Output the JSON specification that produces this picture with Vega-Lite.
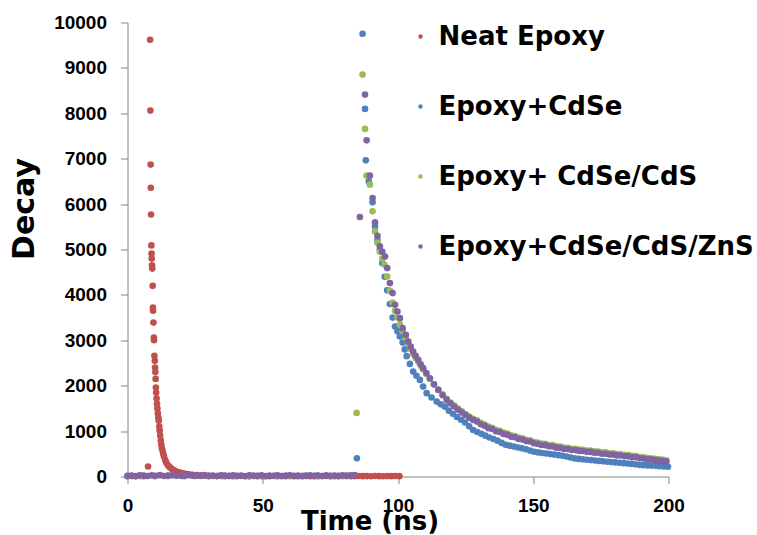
{
  "$schema": "https://vega.github.io/schema/vega-lite/v6.json",
  "width": 541,
  "height": 454,
  "autosize": "none",
  "padding": {"left": 127.5, "top": 22.5, "right": 88.5, "bottom": 58.5},
  "background": "#ffffff",
  "config": {"view": {"stroke": null}},
  "datasets": {
    "neat": [
      {"t":0,"y":6},{"t":1.5,"y":9},{"t":3,"y":4},{"t":4.5,"y":11},{"t":6,"y":7},{"t":7.6,"y":220},
      {"t":8.35,"y":9620},{"t":8.45,"y":8060},{"t":8.55,"y":6870},{"t":8.62,"y":6360},{"t":8.7,"y":5770},{"t":8.8,"y":5090},{"t":8.9,"y":4910},{"t":8.97,"y":4800},{"t":9.05,"y":4650},{"t":9.15,"y":4580},{"t":9.3,"y":4200},{"t":9.4,"y":3720},{"t":9.45,"y":3650},{"t":9.6,"y":3390},{"t":9.75,"y":3060},{"t":9.8,"y":3000},{"t":9.95,"y":2660},{"t":10.1,"y":2550},{"t":10.2,"y":2400},{"t":10.3,"y":2300},{"t":10.4,"y":2150},{"t":10.5,"y":1960},{"t":10.6,"y":1850},{"t":10.75,"y":1720},{"t":10.9,"y":1600},{"t":11.05,"y":1500},{"t":11.2,"y":1390},{"t":11.4,"y":1300},{"t":11.55,"y":1230},{"t":11.75,"y":1100},{"t":11.9,"y":1010},{"t":12.1,"y":900},{"t":12.3,"y":790},{"t":12.5,"y":700},{"t":12.7,"y":620},{"t":12.95,"y":570},{"t":13.2,"y":500},{"t":13.5,"y":440},{"t":13.9,"y":370},{"t":14.3,"y":310},{"t":14.8,"y":260},{"t":15.3,"y":225},{"t":15.8,"y":195},{"t":16.4,"y":165},{"t":17,"y":140},{"t":17.7,"y":118},{"t":18.5,"y":98},{"t":19.4,"y":85},{"t":20.4,"y":70},{"t":21.5,"y":58},{"t":22.7,"y":48},{"t":24,"y":38},{"t":25.5,"y":30},{"t":27,"y":24},{"t":28.5,"y":18},{"t":30,"y":14},
      {"t":31.5,"y":11},{"t":33,"y":9},{"t":34.5,"y":12},{"t":36,"y":8},{"t":37.5,"y":10},{"t":39,"y":7},{"t":40.5,"y":9},{"t":42,"y":11},{"t":43.5,"y":6},{"t":45,"y":8},{"t":46.5,"y":10},{"t":48,"y":7},{"t":49.5,"y":9},{"t":51,"y":5},{"t":52.5,"y":8},{"t":54,"y":10},{"t":55.5,"y":6},{"t":57,"y":9},{"t":58.5,"y":7},{"t":60,"y":11},{"t":61.5,"y":8},{"t":63,"y":6},{"t":64.5,"y":9},{"t":66,"y":10},{"t":67.5,"y":7},{"t":69,"y":8},{"t":70.5,"y":5},{"t":72,"y":9},{"t":73.5,"y":11},{"t":75,"y":6},{"t":76.5,"y":8},{"t":78,"y":7},{"t":79.5,"y":10},{"t":81,"y":9},{"t":82.5,"y":6},{"t":84,"y":8},{"t":85.5,"y":11},{"t":87,"y":7},{"t":88.5,"y":9},{"t":90,"y":6},{"t":91.5,"y":10},{"t":93,"y":8},{"t":94.5,"y":5},{"t":96,"y":9},{"t":97.5,"y":7},{"t":99,"y":10},{"t":100.5,"y":8}
    ],
    "cdse": [
      {"t":0,"y":12},{"t":5,"y":15},{"t":10,"y":9},{"t":15,"y":13},{"t":20,"y":10},{"t":25,"y":14},{"t":30,"y":8},{"t":35,"y":12},{"t":40,"y":11},{"t":45,"y":15},{"t":50,"y":9},{"t":55,"y":13},{"t":60,"y":10},{"t":65,"y":12},{"t":70,"y":14},{"t":75,"y":9},{"t":80,"y":11},
      {"t":84.8,"y":400},{"t":86.9,"y":9751},{"t":87.8,"y":8097},{"t":88.1,"y":6964},{"t":89.2,"y":6500},{"t":90.6,"y":6038},{"t":91.5,"y":5500},{"t":92.4,"y":5200},{"t":93.3,"y":5000},{"t":94.2,"y":4700},{"t":95.1,"y":4400},{"t":96,"y":4100},{"t":97,"y":3800},{"t":98,"y":3500},{"t":98.9,"y":3303},{"t":99.8,"y":3200},{"t":100.7,"y":3083},{"t":101.7,"y":2950},{"t":102.5,"y":2800},{"t":103.2,"y":2650},{"t":104.4,"y":2480},{"t":105.6,"y":2311},{"t":106.8,"y":2220},{"t":108.1,"y":2128},{"t":109.3,"y":1980},{"t":110.6,"y":1835},{"t":112.4,"y":1740},{"t":114.3,"y":1650},{"t":115.8,"y":1590},{"t":117.3,"y":1540},{"t":118.8,"y":1450},{"t":120.3,"y":1380},{"t":121.8,"y":1310},{"t":123.3,"y":1250},{"t":124.8,"y":1190},{"t":126.3,"y":1105},{"t":127.8,"y":1025},{"t":129.3,"y":980},{"t":130.8,"y":940},{"t":132.3,"y":900},{"t":133.8,"y":860},{"t":135.3,"y":825},{"t":136.8,"y":790},{"t":138.3,"y":740},{"t":139.8,"y":700},{"t":141.3,"y":680},{"t":142.8,"y":660},{"t":144.3,"y":640},{"t":145.8,"y":620},{"t":147.3,"y":600},{"t":148.8,"y":570},{"t":150.3,"y":545},{"t":151.8,"y":530},{"t":153.3,"y":518},{"t":154.8,"y":506},{"t":156.3,"y":494},{"t":157.8,"y":482},{"t":159.3,"y":470},{"t":160.8,"y":455},{"t":162.3,"y":438},{"t":163.8,"y":418},{"t":165.3,"y":398},{"t":166.8,"y":388},{"t":168.3,"y":378},{"t":169.8,"y":370},{"t":171.3,"y":362},{"t":172.8,"y":353},{"t":174.3,"y":344},{"t":175.8,"y":335},{"t":177.3,"y":326},{"t":178.8,"y":318},{"t":180.3,"y":310},{"t":181.8,"y":302},{"t":183.3,"y":294},{"t":184.8,"y":286},{"t":186.3,"y":278},{"t":187.8,"y":268},{"t":189.3,"y":254},{"t":190.8,"y":250},{"t":192.3,"y":245},{"t":193.8,"y":240},{"t":195.3,"y":235},{"t":196.8,"y":228},{"t":198.3,"y":222},{"t":199.8,"y":215}
    ],
    "cdsecds": [
      {"t":0,"y":10},{"t":5,"y":13},{"t":10,"y":8},{"t":15,"y":12},{"t":20,"y":14},{"t":25,"y":9},{"t":30,"y":11},{"t":35,"y":13},{"t":40,"y":10},{"t":45,"y":8},{"t":50,"y":12},{"t":55,"y":14},{"t":60,"y":9},{"t":65,"y":11},{"t":70,"y":13},{"t":75,"y":10},{"t":80,"y":12},
      {"t":84.7,"y":1400},{"t":86.9,"y":8853},{"t":87.8,"y":7656},{"t":88.4,"y":6626},{"t":89.6,"y":6428},{"t":90.6,"y":5840},{"t":91.5,"y":5398},{"t":92.4,"y":5150},{"t":93.3,"y":4950},{"t":94.2,"y":4800},{"t":95,"y":4664},{"t":96,"y":4406},{"t":97,"y":4097},{"t":98,"y":3833},{"t":98.9,"y":3650},{"t":99.8,"y":3500},{"t":100.7,"y":3350},{"t":101.7,"y":3200},{"t":102.9,"y":3050},{"t":103.8,"y":2920},{"t":104.7,"y":2810},{"t":105.6,"y":2700},{"t":106.5,"y":2610},{"t":107.5,"y":2520},{"t":108.4,"y":2440},{"t":109.3,"y":2360},{"t":110.5,"y":2260},{"t":111.8,"y":2150},{"t":113.3,"y":2030},{"t":114.9,"y":1915},{"t":116.5,"y":1810},{"t":118,"y":1710},{"t":119.4,"y":1630},{"t":120.8,"y":1560},{"t":122.2,"y":1495},{"t":123.6,"y":1435},{"t":125,"y":1375},{"t":126.4,"y":1320},{"t":127.8,"y":1270},
      {"t":129.2,"y":1235},{"t":130.6,"y":1180},{"t":132,"y":1145},{"t":133.4,"y":1100},{"t":134.8,"y":1070},{"t":136.2,"y":1030},{"t":137.6,"y":1005},{"t":139,"y":965},{"t":140.4,"y":945},{"t":141.8,"y":905},{"t":143.2,"y":890},{"t":144.6,"y":855},{"t":146,"y":840},{"t":147.4,"y":810},{"t":148.8,"y":795},{"t":150.2,"y":760},{"t":151.6,"y":750},{"t":153,"y":725},{"t":154.4,"y":720},{"t":155.8,"y":695},{"t":157.2,"y":690},{"t":158.6,"y":665},{"t":160,"y":660},{"t":161.4,"y":635},{"t":162.8,"y":632},{"t":164.2,"y":612},{"t":165.6,"y":610},{"t":167,"y":593},{"t":168.4,"y":590},{"t":169.8,"y":572},{"t":171.2,"y":570},{"t":172.6,"y":552},{"t":174,"y":550},{"t":175.4,"y":532},{"t":176.8,"y":530},{"t":178.2,"y":512},{"t":179.6,"y":510},{"t":181,"y":495},{"t":182.4,"y":490},{"t":183.8,"y":475},{"t":185.2,"y":470},{"t":186.6,"y":455},{"t":188,"y":450},{"t":189.4,"y":430},{"t":190.8,"y":422},{"t":192.2,"y":412},{"t":193.6,"y":400},{"t":195,"y":392},{"t":196.4,"y":380},{"t":197.8,"y":372},{"t":199.2,"y":355}
    ],
    "cdsecdszns": [
      {"t":0,"y":15},{"t":1.5,"y":22},{"t":3,"y":10},{"t":4.5,"y":28},{"t":6,"y":18},{"t":7.5,"y":12},{"t":9,"y":25},{"t":10.5,"y":16},{"t":12,"y":30},{"t":13.5,"y":11},{"t":15,"y":20},{"t":16.5,"y":26},{"t":18,"y":14},{"t":19.5,"y":22},{"t":21,"y":9},{"t":22.5,"y":27},{"t":24,"y":17},{"t":25.5,"y":21},{"t":27,"y":12},{"t":28.5,"y":29},{"t":30,"y":16},{"t":31.5,"y":23},{"t":33,"y":10},{"t":34.5,"y":25},{"t":36,"y":18},{"t":37.5,"y":13},{"t":39,"y":27},{"t":40.5,"y":15},{"t":42,"y":21},{"t":43.5,"y":11},{"t":45,"y":26},{"t":46.5,"y":19},{"t":48,"y":14},{"t":49.5,"y":28},{"t":51,"y":12},{"t":52.5,"y":22},{"t":54,"y":17},{"t":55.5,"y":24},{"t":57,"y":10},{"t":58.5,"y":20},{"t":60,"y":27},{"t":61.5,"y":15},{"t":63,"y":23},{"t":64.5,"y":12},{"t":66,"y":19},{"t":67.5,"y":28},{"t":69,"y":14},{"t":70.5,"y":21},{"t":72,"y":11},{"t":73.5,"y":25},{"t":75,"y":17},{"t":76.5,"y":22},{"t":78,"y":13},{"t":79.5,"y":26},{"t":81,"y":18},{"t":82.5,"y":24},{"t":84,"y":30},
      {"t":85.9,"y":5715},{"t":87.8,"y":8412},{"t":88.4,"y":7405},{"t":89.6,"y":6626},{"t":90.6,"y":6134},{"t":91.5,"y":5597},{"t":92.4,"y":5300},{"t":93.3,"y":5068},{"t":94.2,"y":4950},{"t":95.2,"y":4847},{"t":96,"y":4591},{"t":97,"y":4260},{"t":98,"y":4040},{"t":98.9,"y":3782},{"t":99.8,"y":3634},{"t":100.7,"y":3488},{"t":101.7,"y":3268},{"t":102.9,"y":3120},{"t":103.8,"y":2973},{"t":104.7,"y":2860},{"t":105.6,"y":2752},{"t":106.5,"y":2660},{"t":107.5,"y":2569},{"t":108.4,"y":2470},{"t":109.3,"y":2386},{"t":110.5,"y":2280},{"t":111.8,"y":2165},{"t":113.3,"y":2030},{"t":114.9,"y":1907},{"t":116.5,"y":1790},{"t":118,"y":1687},{"t":119.4,"y":1610},{"t":120.8,"y":1540},{"t":122.2,"y":1470},{"t":123.6,"y":1410},{"t":125,"y":1350},{"t":126.4,"y":1295},{"t":127.8,"y":1245},{"t":129.2,"y":1210},{"t":130.6,"y":1150},{"t":132,"y":1120},{"t":133.4,"y":1065},{"t":134.8,"y":1045},{"t":136.2,"y":995},{"t":137.6,"y":980},{"t":139,"y":935},{"t":140.4,"y":920},{"t":141.8,"y":875},{"t":143.2,"y":865},{"t":144.6,"y":825},{"t":146,"y":815},{"t":147.4,"y":780},{"t":148.8,"y":770},{"t":150.2,"y":732},{"t":151.6,"y":720},{"t":153,"y":695},{"t":154.4,"y":690},{"t":155.8,"y":665},{"t":157.2,"y":660},{"t":158.6,"y":635},{"t":160,"y":630},{"t":161.4,"y":605},{"t":162.8,"y":603},{"t":164.2,"y":584},{"t":165.6,"y":582},{"t":167,"y":563},{"t":168.4,"y":562},{"t":169.8,"y":543},{"t":171.2,"y":542},{"t":172.6,"y":523},{"t":174,"y":522},{"t":175.4,"y":502},{"t":176.8,"y":500},{"t":178.2,"y":483},{"t":179.6,"y":482},{"t":181,"y":465},{"t":182.4,"y":463},{"t":183.8,"y":445},{"t":185.2,"y":444},{"t":186.6,"y":425},{"t":188,"y":423},{"t":189.4,"y":400},{"t":190.8,"y":395},{"t":192.2,"y":380},{"t":193.6,"y":376},{"t":195,"y":360},{"t":196.4,"y":355},{"t":197.8,"y":338},{"t":199.2,"y":327}
    ]
  },
  "encoding": {
    "x": {
      "field": "t", "type": "quantitative",
      "scale": {"domain": [0, 200], "nice": false, "zero": false},
      "axis": {
        "values": [0, 50, 100, 150, 200], "grid": false, "format": "d", "labelFlush": false,
        "domainColor": "#868686", "tickColor": "#868686", "tickSize": 7,
        "labelFont": "Liberation Sans", "labelFontSize": 19, "labelFontWeight": "bold", "labelColor": "#000000", "labelPadding": 13,
        "title": "Time (ns)", "titleFont": "DejaVu Sans", "titleFontSize": 26, "titleFontWeight": "bold", "titleColor": "#000000",
        "titleX": 242, "titleY": 53, "titleBaseline": "alphabetic", "titleAlign": "center"
      }
    },
    "y": {
      "field": "y", "type": "quantitative",
      "scale": {"domain": [0, 10000], "nice": false},
      "axis": {
        "values": [0, 1000, 2000, 3000, 4000, 5000, 6000, 7000, 8000, 9000, 10000], "grid": false, "format": "d", "labelFlush": false,
        "domainColor": "#868686", "tickColor": "#868686", "tickSize": 7,
        "labelFont": "Liberation Sans", "labelFontSize": 19, "labelFontWeight": "bold", "labelColor": "#000000", "labelPadding": 14,
        "title": "Decay", "titleFont": "DejaVu Sans", "titleFontSize": 30, "titleFontWeight": "bold", "titleColor": "#000000",
        "titleAngle": -90, "titleX": -94, "titleY": 186, "titleBaseline": "alphabetic", "titleAlign": "center"
      }
    }
  },
  "layer": [
    {
      "data": {"name": "neat"},
      "mark": {"type": "point", "filled": true, "size": 44, "opacity": 1, "shape": "circle"},
      "encoding": {
        "color": {
          "datum": "Neat Epoxy", "type": "nominal",
          "scale": {"domain": ["Neat Epoxy", "Epoxy+CdSe", "Epoxy+ CdSe/CdS", "Epoxy+CdSe/CdS/ZnS"], "range": ["#C0504D", "#4F81BD", "#9BBB59", "#8064A2"]},
          "legend": {
            "title": null, "orient": "none", "legendX": 280, "legendY": 1, "padding": 0,
            "labelFont": "DejaVu Sans", "labelFontSize": 26, "labelFontWeight": "bold", "labelColor": "#000000", "labelLimit": 600,
            "symbolType": "circle", "symbolSize": 20, "rowPadding": 44, "labelOffset": 5
          }
        }
      }
    },
    {
      "data": {"name": "cdse"},
      "mark": {"type": "point", "filled": true, "size": 44, "opacity": 1, "shape": "circle"},
      "encoding": {"color": {"datum": "Epoxy+CdSe", "type": "nominal"}}
    },
    {
      "data": {"name": "cdsecds"},
      "mark": {"type": "point", "filled": true, "size": 44, "opacity": 1, "shape": "circle"},
      "encoding": {"color": {"datum": "Epoxy+ CdSe/CdS", "type": "nominal"}}
    },
    {
      "data": {"name": "cdsecdszns"},
      "mark": {"type": "point", "filled": true, "size": 44, "opacity": 1, "shape": "circle"},
      "encoding": {"color": {"datum": "Epoxy+CdSe/CdS/ZnS", "type": "nominal"}}
    }
  ]
}
